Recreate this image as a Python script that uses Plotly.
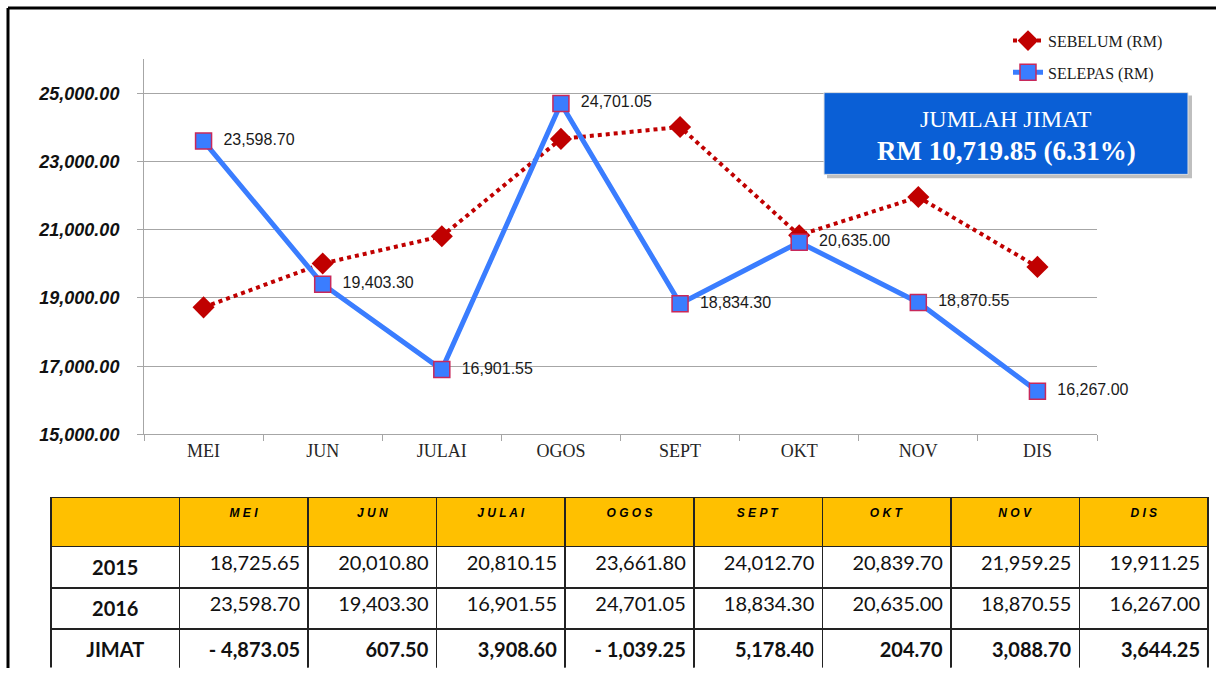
import plotly.graph_objects as go

# ---- data ----
months = ["MEI", "JUN", "JULAI", "OGOS", "SEPT", "OKT", "NOV", "DIS"]
header_months = ["M E I", "J U N", "J U L A I", "O G O S", "S E P T", "O K T", "N O V", "D I S"]
sebelum_2015 = [18725.65, 20010.80, 20810.15, 23661.80, 24012.70, 20839.70, 21959.25, 19911.25]
selepas_2016 = [23598.70, 19403.30, 16901.55, 24701.05, 18834.30, 20635.00, 18870.55, 16267.00]
row_labels = ["2015", "2016", "JIMAT"]
y_ticks = [15000, 17000, 19000, 21000, 23000, 25000]

W, H = 1216, 678


def px(x):
    return x / W


def py(y):
    return 1 - y / H


def fmt(v):
    s = f"{abs(v):,.2f}"
    return ("- " + s) if v < 0 else s


jimat = [round(a - b, 2) for a, b in zip(sebelum_2015, selepas_2016)]
total_jimat = sum(sebelum_2015) - sum(selepas_2016)
pct = total_jimat / sum(sebelum_2015) * 100

fig = go.Figure()

fig.add_trace(go.Scatter(
    x=months, y=sebelum_2015, name="SEBELUM (RM)", mode="lines+markers",
    line=dict(color="#C00000", width=4, dash="dot"),
    marker=dict(symbol="diamond", size=17, color="#C00000"),
    legendgroup="a",
))
fig.add_trace(go.Scatter(
    x=months, y=selepas_2016, name="SELEPAS (RM)", mode="lines+markers+text",
    line=dict(color="#3A7DFF", width=5),
    marker=dict(symbol="square", size=16, color="#3A7DFF",
                line=dict(color="#C8285A", width=1.5)),
    text=["\u00a0\u00a0" + f"{v:,.2f}" for v in selepas_2016],
    textposition="middle right",
    textfont=dict(family="Liberation Sans, Arial", size=16, color="#1a1a1a"),
    cliponaxis=False,
    legendgroup="b",
))

# table
col_values = [[f"<b>{r}</b>" for r in row_labels]]
for a, b, j in zip(sebelum_2015, selepas_2016, jimat):
    col_values.append([fmt(a), fmt(b), f"<b>{fmt(j)}</b>"])

fig.add_trace(go.Table(
    domain=dict(x=[px(51), px(1208)], y=[0, py(505)]),
    columnwidth=[1] * 9,
    header=dict(
        values=[""] + [f"<b><i>{m}</i></b>" for m in header_months],
        fill_color="#FFC000",
        line=dict(color="#222222", width=1.5),
        align="center",
        height=49,
        font=dict(family="Liberation Sans, Arial", size=12, color="#000000"),
    ),
    cells=dict(
        values=col_values,
        fill_color="#FFFFFF",
        line=dict(color="#222222", width=1.5),
        align=["center"] + ["right"] * 8,
        height=41.3,
        font=dict(family="Lato, Carlito, Calibri", size=20, color="#111111"),
    ),
))

fig.update_layout(
    width=W, height=H,
    margin=dict(l=0, r=0, t=0, b=0),
    paper_bgcolor="white", plot_bgcolor="white",
    showlegend=True,
    legend=dict(
        x=px(1008), y=py(24), xanchor="left", yanchor="top",
        font=dict(family="Liberation Serif, Times New Roman", size=16, color="#1a1a1a"),
        tracegroupgap=8, bgcolor="rgba(0,0,0,0)",
    ),
    xaxis=dict(
        domain=[px(144), px(1097)],
        type="category", range=[-0.5, 7.5],
        showline=True, linecolor="#A6A6A6", linewidth=1,
        ticks="outside", ticklen=6, tickcolor="#A6A6A6", tickson="boundaries",
        showgrid=False, zeroline=False,
        tickfont=dict(family="Liberation Serif, Times New Roman", size=18, color="#262626"),
    ),
    yaxis=dict(
        domain=[py(441), py(60)],
        range=[15000, 26000],
        tickvals=y_ticks,
        ticktext=[f"{v:,.2f}" for v in y_ticks],
        showline=True, linecolor="#A6A6A6", linewidth=1,
        ticks="outside", ticklen=6, tickcolor="#A6A6A6",
        showgrid=True, gridcolor="#A6A6A6", gridwidth=1,
        zeroline=False,
        ticklabelstandoff=14,
        tickfont=dict(family="Liberation Sans, Arial", size=18, color="#111111",
                      weight="bold", style="italic"),
    ),
    shapes=[
        # frame
        dict(type="line", xref="paper", yref="paper", x0=px(8), x1=1, y0=py(8), y1=py(8),
             line=dict(color="black", width=3)),
        dict(type="line", xref="paper", yref="paper", x0=px(8), x1=px(8), y0=0, y1=py(8),
             line=dict(color="black", width=3)),
        # box shadow
        dict(type="rect", xref="paper", yref="paper", x0=px(827), x1=px(1192), y0=py(181), y1=py(97),
             fillcolor="#BFBFBF", line=dict(width=0), layer="above"),
        # box
        dict(type="rect", xref="paper", yref="paper", x0=px(824), x1=px(1188), y0=py(177), y1=py(94),
             fillcolor="#0A5FD6", line=dict(color="#E0E0E0", width=1), layer="above"),
    ],
    annotations=[
        dict(xref="paper", yref="paper", x=px(1006), y=py(121), text="JUMLAH JIMAT",
             showarrow=False, xanchor="center", yanchor="middle",
             font=dict(family="Liberation Serif, Times New Roman", size=24, color="white")),
        dict(xref="paper", yref="paper", x=px(1006), y=py(153),
             text=f"<b>RM {total_jimat:,.2f} ({pct:.2f}%)</b>",
             showarrow=False, xanchor="center", yanchor="middle",
             font=dict(family="Liberation Serif, Times New Roman", size=27, color="white")),
    ],
)

fig.write_html(
    "out.html",
    config={"displayModeBar": False},
    post_script="document.body.style.margin='0';document.body.style.overflow='hidden';",
)
